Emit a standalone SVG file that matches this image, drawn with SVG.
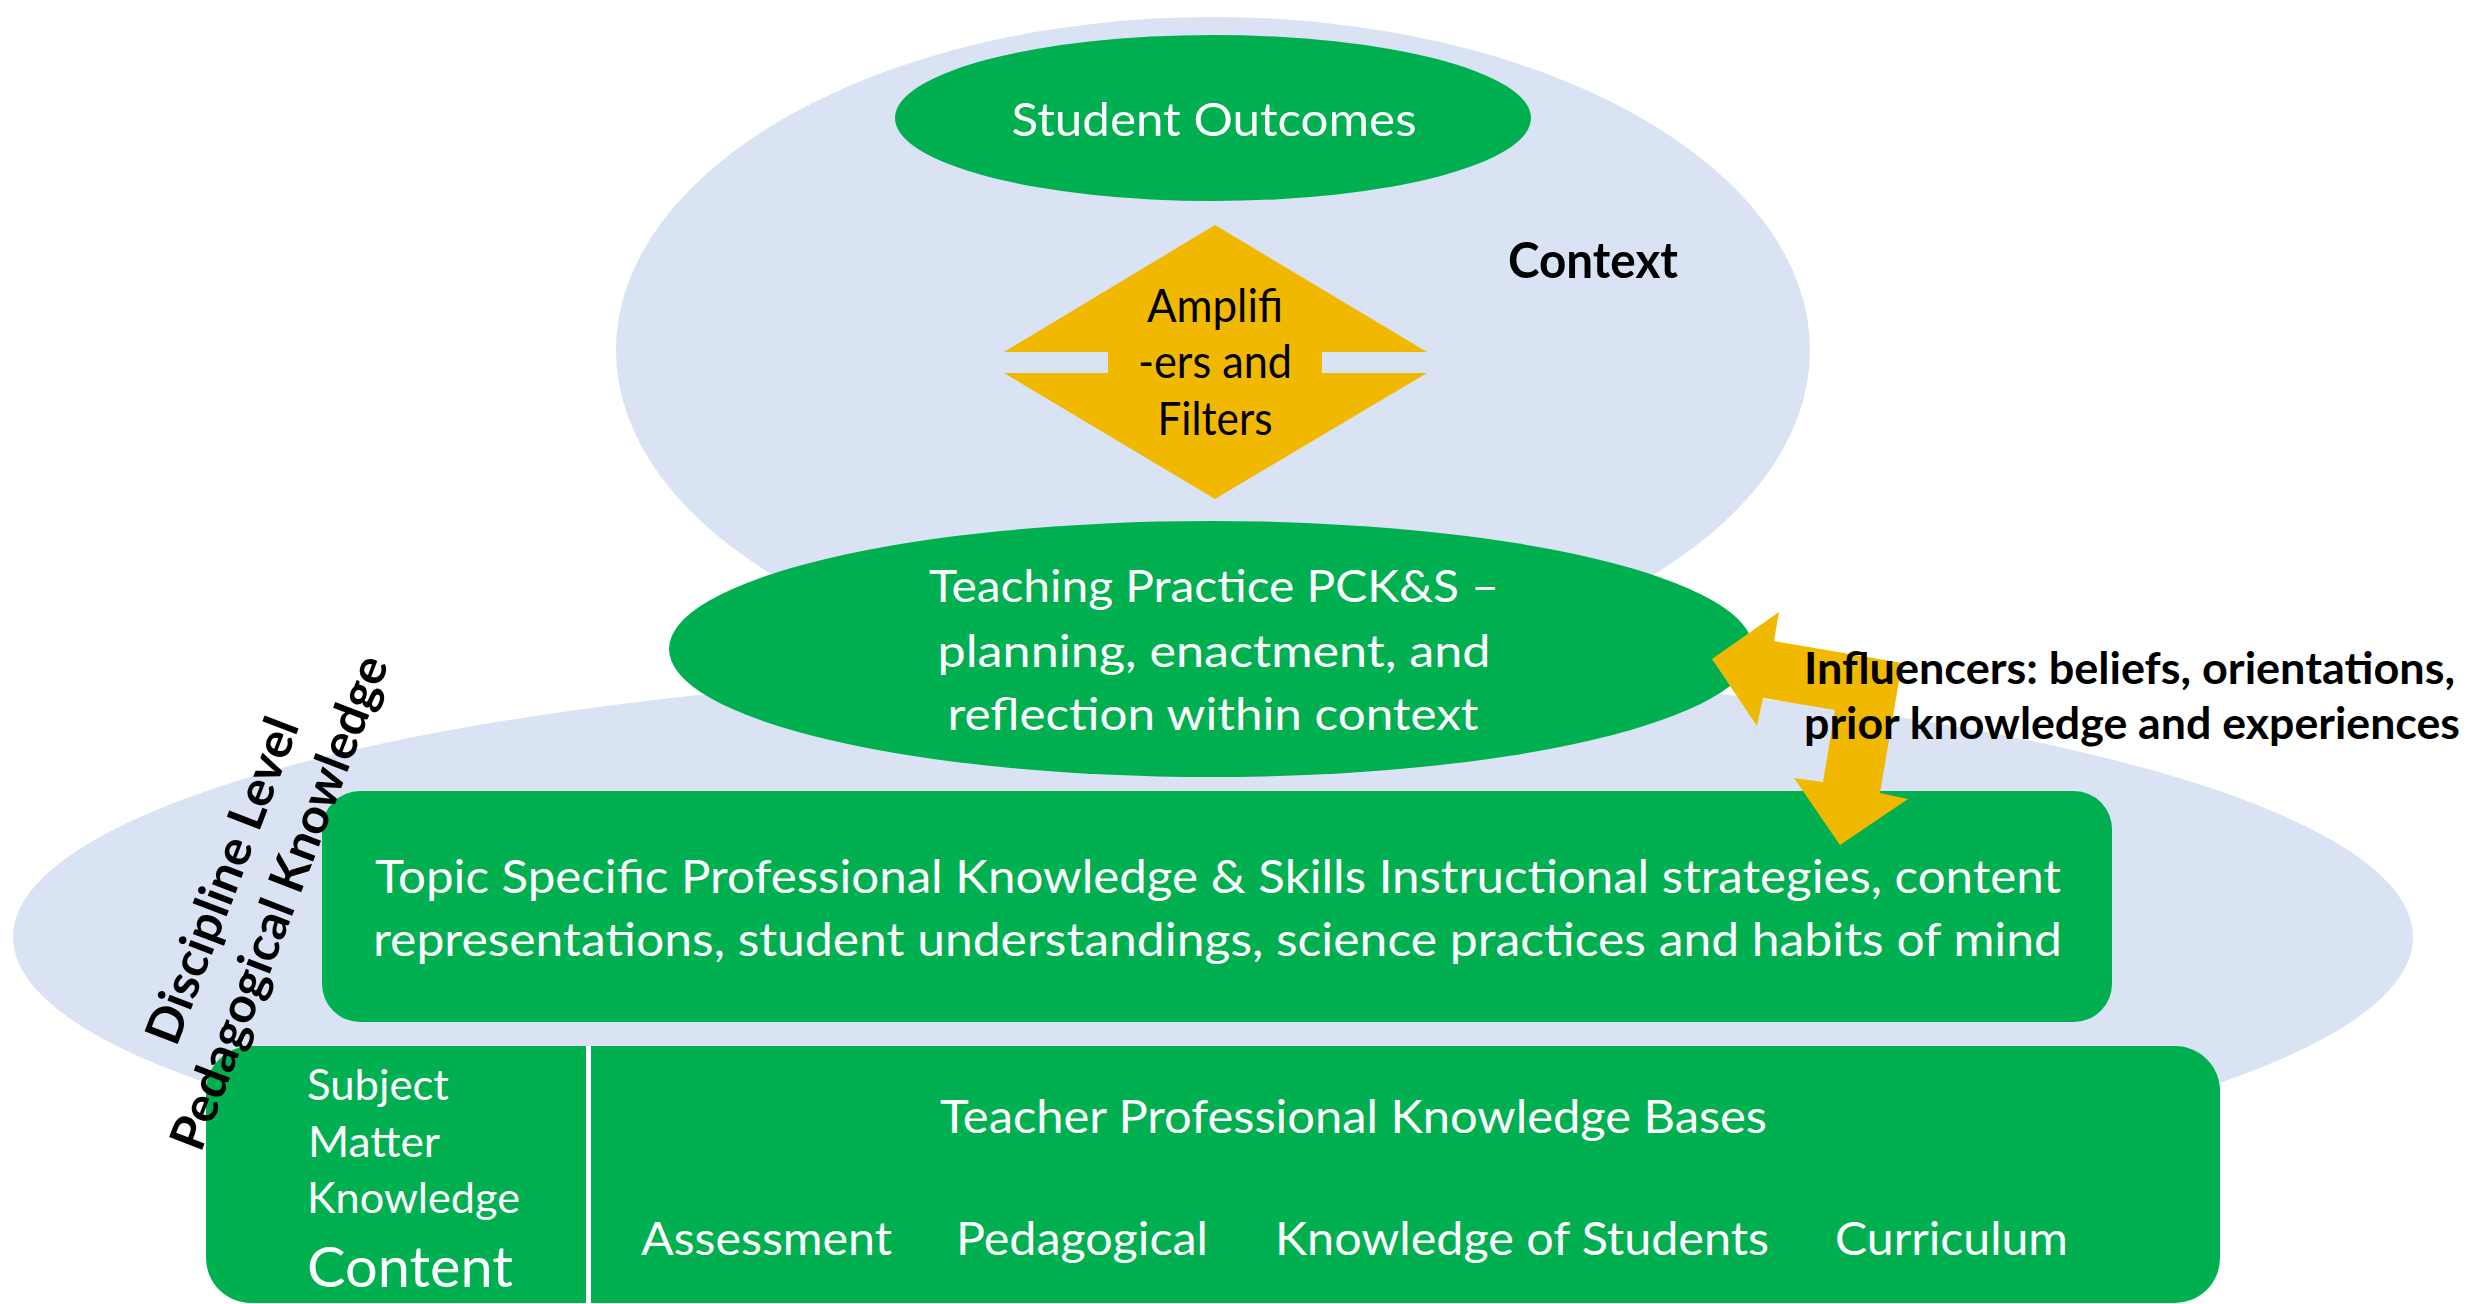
<svg xmlns="http://www.w3.org/2000/svg" width="2476" height="1304" viewBox="0 0 2476 1304">
  <style>
    .ctx { fill: #DAE3F3; }
    .grn { fill: #00B050; }
    .gold { fill: #F1B800; }
    text { font-family: Lato, "Open Sans", "Liberation Sans", sans-serif; }
    .w { fill: #FFFFFF; }
    .k { fill: #000000; }
    .b { font-weight: 700; }
    .mid { text-anchor: middle; }
  </style>
  <rect x="0" y="0" width="2476" height="1304" fill="#FFFFFF"/>

  <g id="context-top">
    <ellipse class="ctx" cx="1213" cy="350" rx="597" ry="333"/>
  </g>
  <g id="context-bottom">
    <ellipse class="ctx" cx="1213" cy="937" rx="1200" ry="268"/>
  </g>

  <g id="context-label">
    <text class="k b" x="1508" y="278" font-size="49" textLength="170" lengthAdjust="spacingAndGlyphs">Context</text>
  </g>

  <g id="student-outcomes">
    <ellipse class="grn" cx="1213" cy="118" rx="318" ry="83"/>
    <text class="w mid" x="1214" y="136" font-size="47" textLength="405" lengthAdjust="spacingAndGlyphs">Student Outcomes</text>
  </g>

  <g id="amplifiers-filters">
    <polygon class="gold" points="1215,225 1427,352 1322,352 1322,373 1427,373 1215,499 1004,373 1108,373 1108,352 1004,352"/>
    <text class="k mid" x="1215" y="322" font-size="46" textLength="136" lengthAdjust="spacingAndGlyphs">Amplifi</text>
    <text class="k mid" x="1215" y="378" font-size="46" textLength="154" lengthAdjust="spacingAndGlyphs">-ers and</text>
    <text class="k mid" x="1215" y="435" font-size="46" textLength="115" lengthAdjust="spacingAndGlyphs">Filters</text>
  </g>

  <g id="teaching-practice">
    <ellipse class="grn" cx="1211" cy="649" rx="542" ry="128"/>
    <text class="w mid" x="1214" y="602" font-size="45" textLength="570" lengthAdjust="spacingAndGlyphs">Teaching Practice PCK&amp;S –</text>
    <text class="w mid" x="1214" y="667" font-size="45" textLength="553" lengthAdjust="spacingAndGlyphs">planning, enactment, and</text>
    <text class="w mid" x="1213" y="730" font-size="45" textLength="531" lengthAdjust="spacingAndGlyphs">reflection within context</text>
  </g>

  <g id="topic-specific">
    <rect class="grn" x="322" y="791" width="1790" height="231" rx="38" ry="38"/>
    <text class="w" x="375" y="893" font-size="46" textLength="1686" lengthAdjust="spacingAndGlyphs">Topic Specific Professional Knowledge &amp; Skills Instructional strategies, content</text>
    <text class="w" x="373" y="956" font-size="46" textLength="1689" lengthAdjust="spacingAndGlyphs">representations, student understandings, science practices and habits of mind</text>
  </g>

  <g id="knowledge-bases">
    <rect class="grn" x="206" y="1046" width="2014" height="257" rx="45" ry="45"/>
    <rect x="586" y="1046" width="5" height="258" fill="#FFFFFF"/>
    <text class="w" x="307" y="1100" font-size="42" textLength="142" lengthAdjust="spacingAndGlyphs">Subject</text>
    <text class="w" x="308" y="1157" font-size="42" textLength="132" lengthAdjust="spacingAndGlyphs">Matter</text>
    <text class="w" x="307" y="1213" font-size="42" textLength="213" lengthAdjust="spacingAndGlyphs">Knowledge</text>
    <text class="w" x="307" y="1287" font-size="56" textLength="206" lengthAdjust="spacingAndGlyphs">Content</text>
    <text class="w" x="940" y="1133" font-size="46" textLength="827" lengthAdjust="spacingAndGlyphs">Teacher Professional Knowledge Bases</text>
    <text class="w" x="641" y="1255" font-size="46" textLength="251" lengthAdjust="spacingAndGlyphs">Assessment</text>
    <text class="w" x="956" y="1255" font-size="46" textLength="252" lengthAdjust="spacingAndGlyphs">Pedagogical</text>
    <text class="w" x="1275" y="1255" font-size="46" textLength="494" lengthAdjust="spacingAndGlyphs">Knowledge of Students</text>
    <text class="w" x="1835" y="1255" font-size="46" textLength="233" lengthAdjust="spacingAndGlyphs">Curriculum</text>
  </g>

  <g id="connectors">
    <polygon class="gold" points="1712,659 1779,612 1774,641 1902,663 1880,793 1908,799 1840,845 1794,778 1823,782 1835,710 1763,698 1757,726"/>
  </g>

  <g id="influencers">
    <text class="k b" x="1804" y="684" font-size="43" textLength="651" lengthAdjust="spacingAndGlyphs">Influencers: beliefs, orientations,</text>
    <text class="k b" x="1804" y="739" font-size="43" textLength="656" lengthAdjust="spacingAndGlyphs">prior knowledge and experiences</text>
  </g>

  <g id="discipline-level-pk" transform="translate(252,892) rotate(-69)">
    <text class="k b mid" x="0" y="-15" font-size="49" textLength="345" lengthAdjust="spacingAndGlyphs">Discipline Level</text>
    <text class="k b mid" x="0" y="46" font-size="49" textLength="525" lengthAdjust="spacingAndGlyphs">Pedagogical Knowledge</text>
  </g>
</svg>
